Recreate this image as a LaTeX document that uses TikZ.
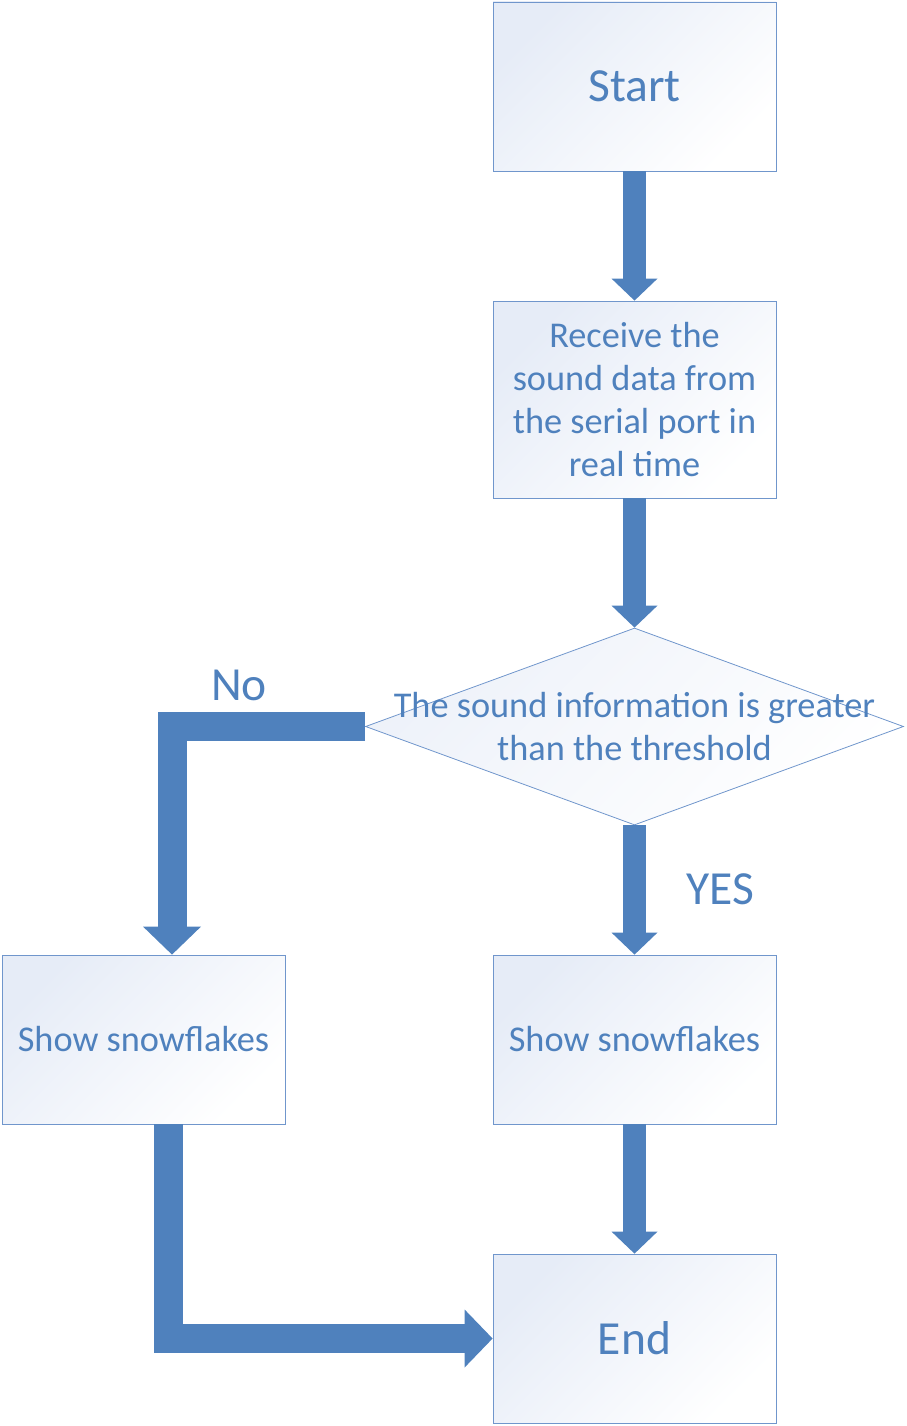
\documentclass[tikz,border=0pt]{standalone}
\usepackage{fontspec}
\setmainfont{Carlito}
\usetikzlibrary{positioning,arrows.meta,shapes.geometric}
\definecolor{flowblue}{RGB}{79,129,189}
\definecolor{boxline}{RGB}{112,150,204}
\definecolor{boxfill}{RGB}{230,236,247}
\tikzstyle{blk}=[rectangle, draw=boxline, line width=0.8pt, top color=boxfill, bottom color=white, shading angle=45, minimum width=283pt, minimum height=169pt, text=flowblue, align=center, font=\fontsize{36.3}{43}\selectfont]
\tikzstyle{bigtxt}=[text=flowblue, font=\fontsize{47.5}{56}\selectfont]
\tikzstyle{decide}=[diamond, draw=boxline, line width=0.8pt, top color=boxfill!70, bottom color=white, shading angle=45, minimum width=538pt, minimum height=197pt, inner sep=0pt]
\tikzstyle{flow}=[draw=flowblue, line width=23pt, -{Triangle[width=46pt,length=22pt,line width=0pt]}, flowblue]
\tikzstyle{flowL}=[draw=flowblue, line width=29pt, -{Triangle[width=58pt,length=28pt,line width=0pt]}, flowblue]

\begin{document}
\begin{tikzpicture}[x=1pt,y=-1pt,on grid]
   \useasboundingbox (0,0) rectangle (906,1426);
   \node[blk,bigtxt] (start) at (634.5,86.5) {Start};
   \node[blk,minimum height=197pt] (recv) [below=313pt of start] {Receive the\\sound data from\\the serial port in\\real time};
   \node[decide] (test) [below=327pt of recv] {};
   \node[text=flowblue,align=center,font=\fontsize{36.3}{43}\selectfont] (testtxt) at (test) {The sound information is greater\\than the threshold};
   \node[blk] (yesbox) [below=313pt of test] {Show snowflakes};
   \node[blk] (nobox) [left=491pt of yesbox] {Show snowflakes};
   \node[blk,bigtxt] (end) [below=299pt of yesbox] {End};
   \node[bigtxt] (nolbl) at (239,685) {No};
   \node[bigtxt] (yeslbl) at (720,889) {YES};
    \path[flow]
    (start) edge (recv)
    (recv) edge (test)
    (test) edge (yesbox)
    (yesbox) edge (end);
    \draw[flowL] (test.west) -| ([xshift=28.5pt]nobox.north);
    \draw[flowL] ([xshift=24.5pt]nobox.south) |- (end.west);
\end{tikzpicture}
\end{document}
